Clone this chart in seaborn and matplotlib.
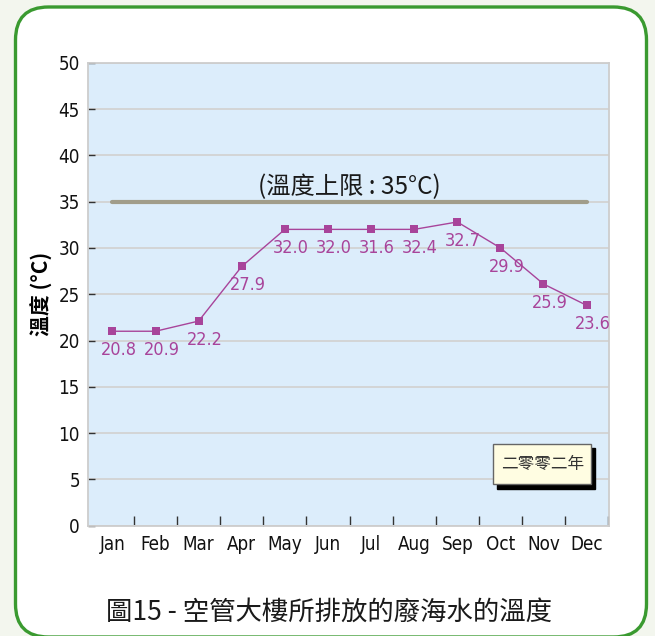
import numpy as np
import pandas as pd
import matplotlib
matplotlib.use('Agg')
import matplotlib.pyplot as plt
import seaborn as sns
from matplotlib.patches import FancyBboxPatch
from matplotlib.transforms import IdentityTransform
from matplotlib.lines import Line2D
from matplotlib.ticker import FixedLocator

# ---------------- data ----------------
months = ['Jan', 'Feb', 'Mar', 'Apr', 'May', 'Jun',
          'Jul', 'Aug', 'Sep', 'Oct', 'Nov', 'Dec']
temps = [21.0, 21.0, 22.1, 28.0, 32.0, 32.0, 32.0, 32.0, 32.8, 30.0, 26.1, 23.8]
value_labels = ['20.8', '20.9', '22.2', '27.9', '32.0', '32.0',
                '31.6', '32.4', '32.7', '29.9', '25.9', '23.6']
limit = 35
limit_label = '(溫度上限 : 35°C)'
y_ticks = [0, 5, 10, 15, 20, 25, 30, 35, 40, 45, 50]
year_label = '二零零二年'
y_title = '溫度 (°C)'
caption = '圖15 - 空管大樓所排放的廢海水的溫度'

# ---------------- style ----------------
sns.set_theme(style='whitegrid')
plt.rcParams['font.family'] = ['Noto Sans CJK TC', 'DejaVu Sans']
narrow = ['DejaVu Sans']

W, H = 655, 636
fig = plt.figure(figsize=(W / 100, H / 100), dpi=100, facecolor='#f3f6ee')

panel = FancyBboxPatch((15.5, -1), 631, 630,
                       boxstyle='round,pad=0,rounding_size=33',
                       transform=IdentityTransform(),
                       facecolor='white', edgecolor='#3a9a30', lw=2.4, zorder=-5)
fig.patches.append(panel)

ax = fig.add_axes([88.3 / W, 1 - 525.7 / H, (608.8 - 88.3) / W, (525.7 - 62.7) / H])
ax.set_zorder(2)
ax.set_facecolor('#dcedfb')

df = pd.DataFrame({'month': months, 'temp': temps})
sns.lineplot(data=df, x='month', y='temp', sort=False, color='#a8449a',
             lw=1.0, marker='s', markersize=6, markeredgewidth=0, ax=ax, zorder=4)
sns.lineplot(x=months, y=[limit] * len(months), sort=False, color='#a19d8a',
             lw=3, ax=ax, zorder=3)

for i, (t, s) in enumerate(zip(temps, value_labels)):
    ax.annotate(s, xy=(i, t), xytext=(6, -19), textcoords='offset pixels',
                ha='center', va='center', fontsize=13, color='#a8449a',
                family=narrow, fontstretch='condensed', zorder=5)

ax.annotate(limit_label, xy=((len(months) - 1) / 2, limit), xytext=(0, 2),
            textcoords='offset pixels', ha='center', va='bottom',
            fontsize=17.5, color='#1a1a1a')

ax.set_ylim(0, 50)
ax.set_yticks(y_ticks)
ax.set_xlim(-0.56, 11.515)
ax.grid(axis='y', color='#d3d3d3', lw=1.3)
ax.grid(axis='x', visible=False)
ax.xaxis.set_minor_locator(FixedLocator(np.arange(0.5, 11.6, 1)))
ax.tick_params(axis='x', which='major', length=0, pad=7, labelcolor='#111')
ax.tick_params(axis='x', which='minor', direction='in', length=7, width=1,
               color='#333', bottom=True)
ax.tick_params(axis='y', direction='in', length=5, width=1, color='#333',
               pad=6, labelcolor='#111', left=True)
for sp in ax.spines.values():
    sp.set_visible(True)
    sp.set_color('#cdcdcd')
    sp.set_linewidth(1.3)

for lab in ax.get_xticklabels() + ax.get_yticklabels():
    lab.set_fontfamily(narrow)
    lab.set_fontstretch('condensed')
    lab.set_fontsize(13.5)

ax.set_xlabel('')
ax.set_ylabel(y_title, fontsize=15, fontweight='bold', color='black')
ax.yaxis.set_label_coords(-0.068, 0.5)

handle = Line2D([], [], linestyle='none')
leg = ax.legend([handle], [year_label], loc='center', bbox_to_anchor=(0.872, 0.133),
                handlelength=0, handletextpad=0, handleheight=2.0, borderpad=0.45,
                fontsize=12, frameon=True, fancybox=False, framealpha=1,
                facecolor='#fffde2', edgecolor='#666666',
                shadow={'ox': 3, 'oy': -3, 'color': 'black', 'alpha': 1})
leg.get_frame().set_linewidth(1.0)
for t in leg.get_texts():
    t.set_color('#333333')

fig.text(328.5 / W, 1 - 612 / H, caption, ha='center', va='center',
         fontsize=19, color='#1a1a1a')

fig.savefig('out.png', dpi=100, facecolor=fig.get_facecolor())
